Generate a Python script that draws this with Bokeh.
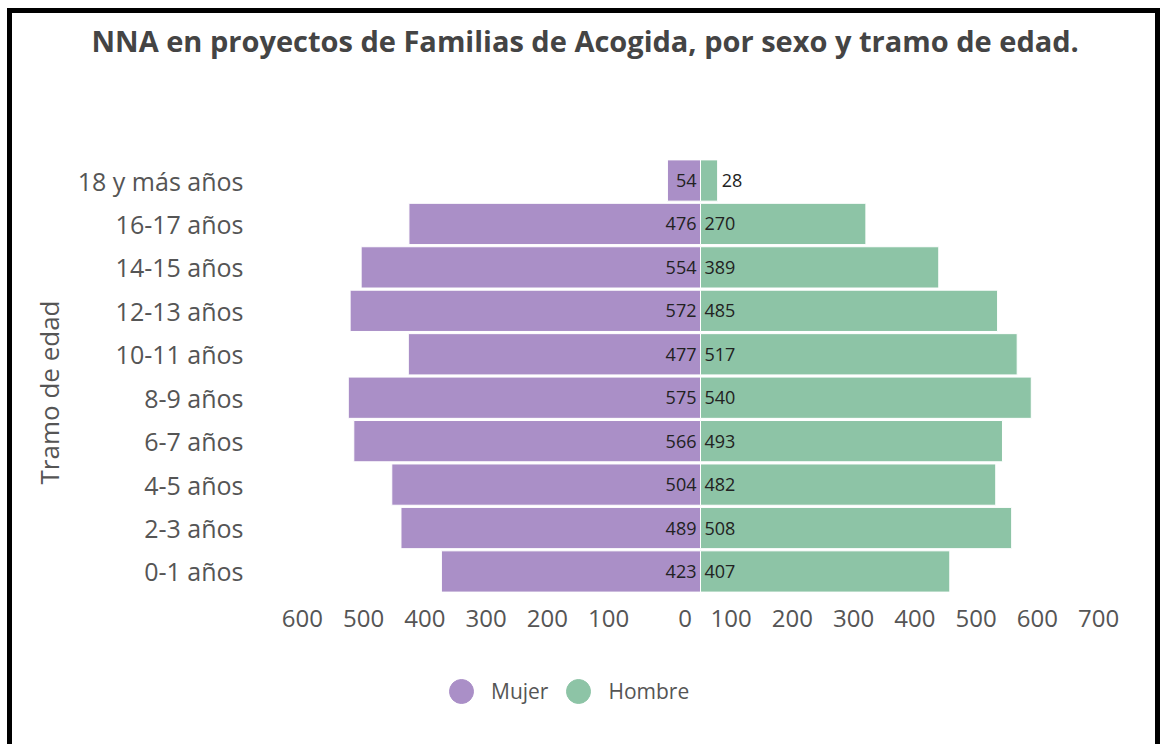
from bokeh.plotting import figure
from bokeh.models import (ColumnDataSource, Range1d, FixedTicker,
                          LabelSet, Legend, LegendItem)
from bokeh.core.properties import value
from bokeh.embed import file_html
from bokeh.resources import INLINE

# ---- data ----
categories = ["0-1 años", "2-3 años", "4-5 años", "6-7 años", "8-9 años",
              "10-11 años", "12-13 años", "14-15 años", "16-17 años", "18 y más años"]
mujer = [423, 489, 504, 566, 575, 477, 572, 554, 476, 54]
hombre = [407, 508, 482, 493, 540, 517, 485, 389, 270, 28]
series_names = ["Mujer", "Hombre"]
tick_labels = ["600", "500", "400", "300", "200", "100", "0",
               "100", "200", "300", "400", "500", "600", "700"]
tick_positions = [-650, -550, -450, -350, -250, -150, -25,
                  50, 150, 250, 350, 450, 550, 650]

title_text = "NNA en proyectos de Familias de Acogida, por sexo y tramo de edad."
y_title = "Tramo de edad"

# ---- styles ----
C_MUJER = "#aa8fc7"
C_HOMBRE = "#8dc4a6"
FONT = "Open Sans"

idx = list(range(len(categories)))
src = ColumnDataSource(dict(
    pos=idx,
    mujer_neg=[-v for v in mujer],
    hombre=hombre,
    mujer_lbl=[str(v) for v in mujer],
    hombre_lbl=[str(v) for v in hombre],
    zero=[0] * len(categories),
    hombre_lbl_x=[0 if v >= 45 else v for v in hombre],
))

p = figure(width=1153, height=736, output_backend="svg", toolbar_location=None,
           y_range=Range1d(-3.546, 11.786), x_range=Range1d(-702, 702),
           min_border_left=258, min_border_right=35, min_border_top=46,
           min_border_bottom=24)
p.styles = {"border-top": "5px solid black", "border-left": "5px solid black",
            "border-right": "5px solid black",
            "margin-left": "7px", "margin-top": "8px"}

p.hbar(y="pos", left="mujer_neg", right="zero", height=0.95, source=src,
       fill_color=C_MUJER, line_color="white", line_width=1)
p.hbar(y="pos", left="zero", right="hombre", height=0.95, source=src,
       fill_color=C_HOMBRE, line_color="white", line_width=1)

p.add_layout(LabelSet(x="zero", y="pos", text="mujer_lbl", source=src,
                      x_offset=-4, text_align="right", text_baseline="middle",
                      text_font=value(FONT), text_font_size="18px",
                      text_color="#222222"))
p.add_layout(LabelSet(x="hombre_lbl_x", y="pos", text="hombre_lbl", source=src,
                      x_offset=4, text_align="left", text_baseline="middle",
                      text_font=value(FONT), text_font_size="18px",
                      text_color="#222222"))

# legend (circle markers; renderers hold a single non-drawn NaN point)
nan = float("nan")
r_m = p.scatter(x=[nan], y=[nan], marker="circle", size=24,
                fill_color=C_MUJER, line_color=C_MUJER)
r_h = p.scatter(x=[nan], y=[nan], marker="circle", size=24,
                fill_color=C_HOMBRE, line_color=C_HOMBRE)
legend = Legend(items=[LegendItem(label=series_names[0], renderers=[r_m]),
                       LegendItem(label=series_names[1], renderers=[r_h])],
                orientation="horizontal", location=(161, 4),
                glyph_width=60, glyph_height=60, label_standoff=-1, spacing=-3,
                padding=0, margin=0, border_line_color=None,
                background_fill_alpha=0, label_text_font=FONT,
                label_text_font_size="21px", label_text_color="#555555")
p.add_layout(legend)

# axes
p.xaxis.ticker = FixedTicker(ticks=tick_positions)
p.xaxis.major_label_overrides = {t: l for t, l in zip(tick_positions, tick_labels)}
p.xaxis.fixed_location = -0.5
p.yaxis.ticker = FixedTicker(ticks=idx)
p.yaxis.major_label_overrides = {i: c for i, c in zip(idx, categories)}
for ax in (p.xaxis[0], p.yaxis[0]):
    ax.axis_line_color = None
    ax.major_tick_line_color = None
    ax.minor_tick_line_color = None
    ax.major_label_text_font = FONT
    ax.major_label_text_color = "#555555"
p.xaxis.major_label_text_font_size = "24px"
p.yaxis.major_label_text_font_size = "25px"
p.xaxis.major_label_standoff = 11
p.yaxis.major_label_standoff = 21
p.yaxis.axis_label = y_title
p.yaxis.axis_label_text_font = FONT
p.yaxis.axis_label_text_font_size = "26px"
p.yaxis.axis_label_text_font_style = "normal"
p.yaxis.axis_label_text_color = "#555555"
p.yaxis.axis_label_standoff = 8

p.xgrid.grid_line_color = None
p.ygrid.grid_line_color = None
p.outline_line_color = None

p.title.text = title_text
p.title.align = "left"
p.title.offset = -179
p.title.standoff = 0
p.title.text_font = FONT
p.title.text_font_size = "29px"
p.title.text_font_style = "bold"
p.title.text_color = "#444444"

open("out.html", "w").write(file_html(p, INLINE))
